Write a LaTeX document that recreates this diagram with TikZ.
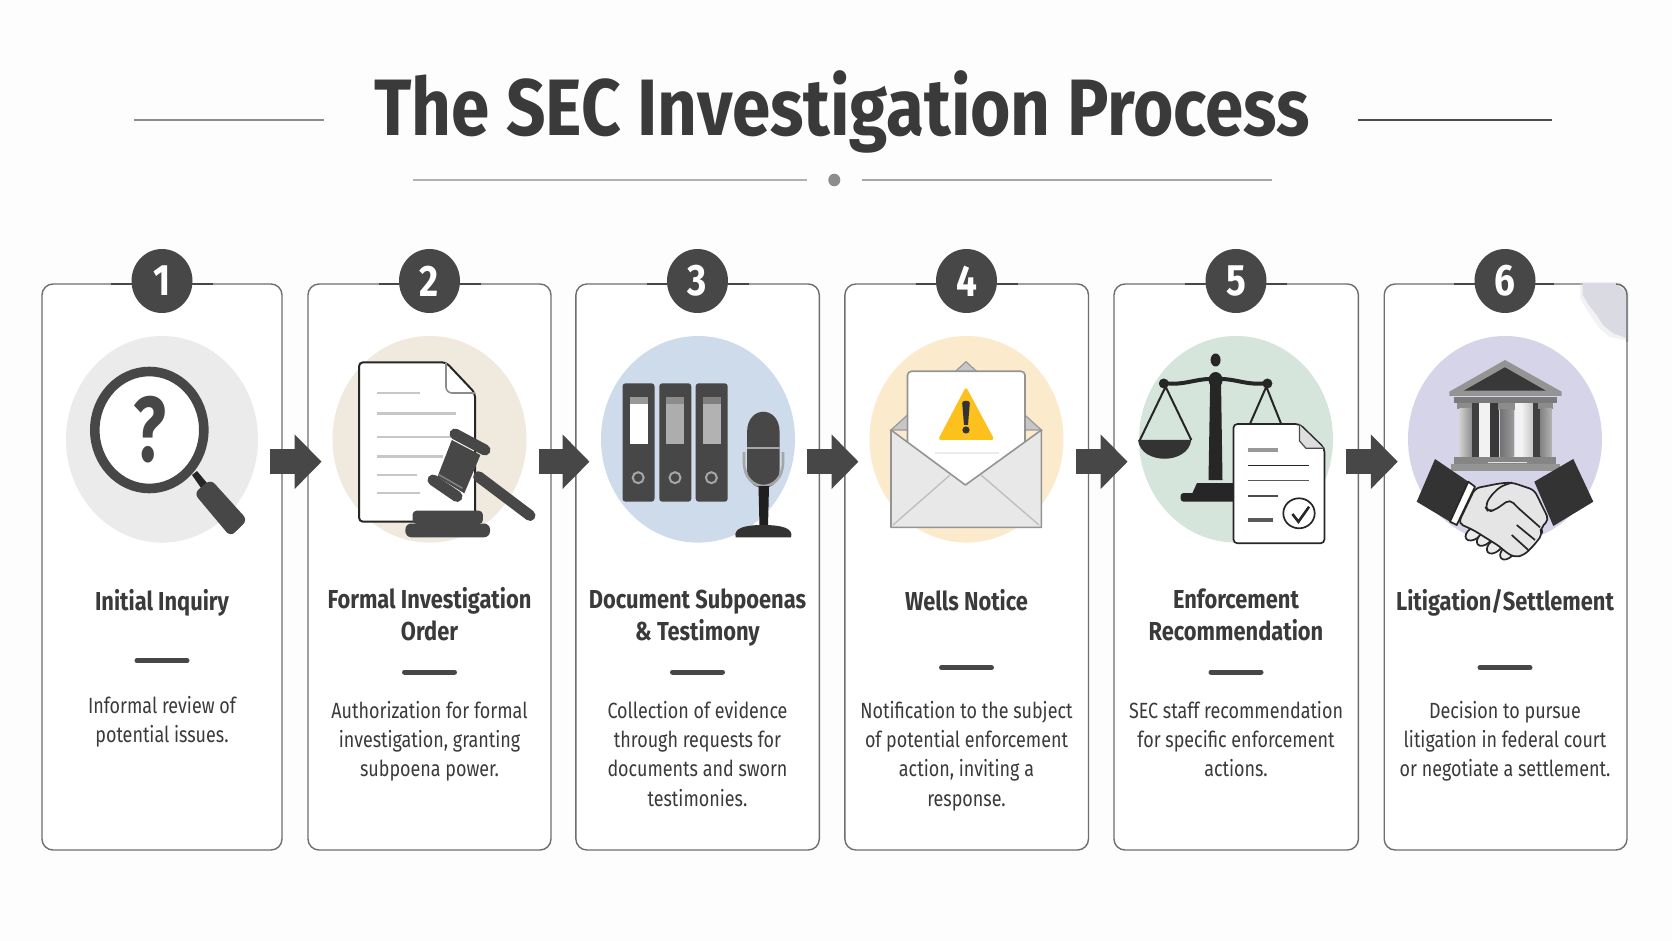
\documentclass[tikz,border=0pt]{standalone}
\usepackage{fontspec}
\usetikzlibrary{arrows.meta,shapes.geometric,calc}
\setmainfont{Fira Sans}
\newfontfamily\hfont[FakeStretch=0.84]{Fira Sans}
\newfontfamily\tfont[FakeStretch=0.865]{Fira Sans}
\newfontfamily\bfont[FakeStretch=0.815]{Fira Sans}
\newfontfamily\qfont[FakeStretch=0.74]{Fira Sans}
\definecolor{bgc}{HTML}{FDFDFD}
\definecolor{ink}{HTML}{474747}
\definecolor{txt}{HTML}{3A3A3A}
\definecolor{edge}{HTML}{6E6E6E}
\definecolor{lgrey}{HTML}{EBEBEB}
\definecolor{lbeige}{HTML}{F0E9DE}
\definecolor{lblue}{HTML}{CEDBEB}
\definecolor{lyellow}{HTML}{FBEACB}
\definecolor{lgreen}{HTML}{D5E5DC}
\definecolor{lpurple}{HTML}{D6D4E8}
\definecolor{warn}{HTML}{FDC11E}
\definecolor{smudge}{HTML}{DADAE2}
\tikzset{
 cardbox/.style={draw=edge,fill=white,line width=0.7pt,rounded corners=5.5pt,minimum height=283pt,inner sep=0pt},
 badge/.style={ellipse,fill=ink,text=white,minimum width=30.5pt,minimum height=32pt,inner sep=0pt,font=\hfont\fontsize{22}{22}\selectfont\bfseries},
 blockarrow/.style={ink,line width=12.5pt,-{Triangle[length=13.5pt,width=26.5pt]}},
 headtext/.style={anchor=base,align=center,text=txt,font=\hfont\fontsize{13}{15.75}\selectfont\bfseries},
 bodytext/.style={anchor=base,align=center,text=txt,font=\bfont\fontsize{11}{14.65}\selectfont},
 sepbar/.style={ink,line width=2.5pt,line cap=round},
 rulea/.style={line width=0.8pt},
 docline/.style={line width=1pt,draw=black!22},
 blk/.style={draw=black!85,line width=0.85pt,line join=round},
}
\begin{document}
\begin{tikzpicture}[x=0.5pt,y=-0.5pt]
\useasboundingbox (0,0) rectangle (1672,941);
\fill[bgc] (0,0) rectangle (1672,941);
% title
\node[anchor=base,text=txt,font=\tfont\fontsize{40}{40}\selectfont\bfseries] (title) at (842,136) {The SEC Investigation Process};
\draw[rulea,black!45] (134,120.3) -- (323.5,120.3);
\draw[rulea,black!70] (1358,120) -- (1551.6,120);
\draw[rulea,black!30] (412.7,180) -- (807,180);
\draw[rulea,black!35] (861.5,180) -- (1272,180);
\fill[black!45] (834.3,180) ellipse [x radius=6,y radius=6.3];
% cards
\foreach \n/\cx/\w in {1/162/120,2/429.5/121.5,3/697.6/121.7,4/966.7/121.8,5/1236.2/122.2,6/1505.6/121.4}{
 \node[cardbox,minimum width=\w pt] (c\n) at (\cx,567) {};
}
% smudge
\fill[smudge,opacity=.35] (1580,282.5) -- (1620,282.5) -- (1629,292) -- (1629,341) -- (1610,337) -- (1600,329) -- (1593,319) -- (1587,310) -- (1580,298) -- cycle;
\fill[smudge] (1582.7,283) -- (1616,283) -- (1626.3,293) -- (1626.3,338) -- (1613,333.3) -- (1603,325) -- (1596.7,315) -- (1590,306.7) -- (1582.7,295) -- cycle;
\draw[edge,line width=0.7pt] (1616,284) .. controls (1622.5,284) and (1627,288.5) .. (1627,295) -- (1627,342);
% badges
\foreach \n/\cx/\x in {1/162/51,2/429.5/51,3/697.5/51,4/966.5/51,5/1236/51,6/1505/49}{
 \draw[ink,line width=1.1pt] (\cx-51,284) -- (\cx+\x,284);
 \node[badge] (b\n) at (\cx,281) {\n};
}
% arrows
\foreach \a/\b in {1/2,2/3,3/4,4/5,5/6}{
 \draw[blockarrow] ([shift={(-12.8,-105.3)}]c\a.east) -- ([shift={(14.3,-105.3)}]c\b.west);
}
% ellipses
\fill[lgrey] (162,439.3) ellipse [x radius=96,y radius=103.3];
\fill[lbeige] (429.5,439.3) ellipse [x radius=97,y radius=103.3];
\fill[lblue] (698,439.3) ellipse [x radius=97,y radius=103.3];
\fill[lyellow] (966.5,439.3) ellipse [x radius=97,y radius=103.3];
\fill[lgreen] (1236,439.3) ellipse [x radius=97,y radius=103.3];
\fill[lpurple] (1505,439.3) ellipse [x radius=97,y radius=103.3];
% --- icon 1
\fill[black!85] (192,475) -- (197,471) -- (207,483) -- (201,488) -- cycle;
\fill[ink,rounded corners=3pt] (194,493.3) -- (210.7,479.3) -- (247.5,520) -- (230.4,536.7) -- cycle;
\draw[ink,line width=4.8pt,fill=white] (149.3,430) ellipse [x radius=54.5,y radius=58.5];
\node[text=ink,font=\qfont\fontsize{46}{46}\selectfont\bfseries] (q) at (150,430) {?};
% --- icon 2
\draw[black!85,line width=1pt,fill=white,line join=round,rounded corners=2pt] (359,362.3) -- (446,362.3) -- (475,393) -- (475,521.7) -- (359,521.7) -- cycle;
\draw[black!45,line width=0.8pt,rounded corners=3pt] (446,362.3) -- (446,393) -- (475,393);
\draw[docline] (376.8,393.3) -- (419.6,393.3);
\draw[docline,line width=1.5pt] (376.8,414) -- (456.4,414);
\draw[docline] (376.8,436.7) -- (451.8,436.7);
\draw[docline,line width=1.6pt] (376.8,456.7) -- (443,456.7);
\draw[docline] (376.8,475) -- (417,475);
\draw[docline] (376.8,493.3) -- (419.6,493.3);
\draw[ink,line width=5.5pt,line cap=round] (478.6,476.7) -- (530,515.5);
\draw[ink,line width=5.5pt,line cap=round] (455,434) -- (485,450);
\draw[ink,line width=5.5pt,line cap=round] (433,480) -- (457,496.5);
\fill[ink] (451.8,440) -- (480.4,455) -- (464.3,493.3) -- (437.5,476.7) -- cycle;
\draw[black!50,line width=0.8pt] (438.6,474.5) -- (462.5,488.3);
\fill[ink,rounded corners=2pt] (412.5,510.7) -- (482.9,510.7) -- (482.9,524) -- (412.5,524) -- cycle;
\fill[ink,rounded corners=3pt] (405.4,523.5) -- (490,523.5) -- (490,537.3) -- (405.4,537.3) -- cycle;
% --- icon 3
\foreach \x/\l/\lc/\tc in {622.5/630/white/black!40,659.3/666.4/black!32/black!45,695.7/702.9/black!30/black!50}{
 \fill[ink,rounded corners=1.5pt] (\x,383.3) rectangle ++(32,118.4);
 \fill[\lc] (\l,396.7) rectangle ++(17.8,47.3);
 \fill[\tc] (\l,396.7) rectangle ++(17.8,7);
 \draw[black!35,line width=1pt] (\x+15.7,477.7) circle [radius=5.5];
}
\fill[ink] (747.1,432) .. controls (747.1,405) and (779.6,405) .. (779.6,432) -- (779.6,470) .. controls (779.6,494) and (747.1,494) .. (747.1,470) -- cycle;
\draw[black!35,line width=1pt] (747.1,448) -- (779.6,448);
\draw[black!35,line width=1.3pt] (744,452) -- (744,462) .. controls (744,494) and (783,494) .. (783,462) -- (783,452);
\fill[black!88] (758.5,486) -- (769,486) -- (768,527) -- (759.5,527) -- cycle;
\fill[black!80] (735.7,537.3) .. controls (733,528) and (745,525) .. (763,525) .. controls (781,525) and (794,528) .. (791,537.3) -- cycle;
% --- icon 4
\fill[black!22,draw=black!40,line width=.6pt] (891,430) -- (966,361.7) -- (1041.4,430) -- cycle;
\draw[black!42,line width=.8pt,fill=white,rounded corners=2pt] (907.5,371.3) rectangle (1025,490);
\fill[black!8] (935,452) rectangle (999,453.5);
\fill[warn,rounded corners=1.5pt] (966,386.7) -- (994.6,440) -- (937.9,440) -- cycle;
\fill[black!80] (962.2,403) .. controls (962.2,400) and (969.8,400) .. (969.8,403) -- (968,425) -- (964,425) -- cycle;
\fill[black!80] (966,430) circle [radius=3.6];
\draw[black!42,line width=.8pt,fill=black!9,line join=round] (891,430) -- (965.4,485) -- (1041.4,430) -- (1041.4,527.3) -- (891,527.3) -- cycle;
\draw[black!25,line width=.7pt] (893,525) -- (950,475);
\draw[black!25,line width=.7pt] (1039,525) -- (981,475);
% --- icon 5
\fill[black!85] (1210.2,380) -- (1221,380) -- (1222.5,480) -- (1208.5,480) -- cycle;
\fill[black!85] (1215.6,360) ellipse [x radius=5,y radius=6.5];
\fill[black!85] (1215.6,380) ellipse [x radius=7,y radius=8];
\draw[black!85,line width=2pt] (1163.8,383) .. controls (1185,386) and (1195,378) .. (1215.6,379) .. controls (1236,378) and (1246,386) .. (1267.4,383);
\fill[black!85] (1163.8,383.5) circle [radius=5];
\fill[black!85] (1267.4,383.5) circle [radius=5];
\draw[black!85,line width=1pt] (1139.9,440) -- (1165.6,386.7) -- (1191.3,440);
\draw[black!85,line width=1pt] (1249.5,425) -- (1266.3,386.7) -- (1281.6,425);
\fill[black!80] (1138,440) -- (1191.3,440) .. controls (1188,465) and (1141,465) .. (1138,440) -- cycle;
\fill[black!85] (1192.4,493) -- (1197,483) -- (1236,483) -- (1236,493) -- cycle;
\fill[black!85,rounded corners=1.5pt] (1180.6,493) -- (1236,493) -- (1236,501.7) -- (1180.6,501.7) -- cycle;
\draw[blk,fill=white,rounded corners=2pt] (1233.4,424) -- (1299.5,424) -- (1324.5,448.3) -- (1324.5,543.3) -- (1233.4,543.3) -- cycle;
\fill[black!13] (1299.5,425) -- (1323.5,448.3) -- (1306,448.3) -- (1299.5,442) -- cycle;
\draw[black!70,line width=.6pt] (1299.5,424) -- (1299.5,441) -- (1306,448.3) -- (1324.5,448.3);
\draw[black!40,line width=1.6pt] (1247.7,450) -- (1278,450);
\draw[black!85,line width=.7pt] (1247.7,465.7) -- (1309,465.7);
\draw[black!65,line width=.7pt] (1247.7,480.7) -- (1309,480.7);
\draw[black!70,line width=.7pt] (1247.7,496) -- (1278,496);
\draw[black!65,line width=1.6pt] (1247.7,520) -- (1272.7,520);
\draw[blk] (1299,513.3) ellipse [x radius=15.7,y radius=15];
\draw[black!85,line width=1.3pt] (1292.4,514) -- (1298.4,521.7) -- (1309.1,506.7);
% --- icon 6
\fill[black!42] (1505,360) -- (1561.7,391.7) -- (1561.7,396) -- (1449.3,396) -- (1449.3,391.7) -- cycle;
\fill[black!78] (1504.9,367.3) -- (1545.9,390.7) -- (1463.8,390.7) -- cycle;
\fill[black!52] (1454,396.7) rectangle (1557.3,403.3);
\fill[black!45] (1457.3,403.3) rectangle (1473.3,409.3);
\shade[left color=black!18,right color=black!45] (1459.3,409) rectangle (1472.3,456.7);
\fill[black!75] (1472.3,403.3) rectangle (1479.3,456.7);
\fill[black!5] (1479.3,403.3) rectangle (1490,456.7);
\fill[black!78] (1490,403.3) rectangle (1499.3,456.7);
\fill[black!45] (1498.3,403.3) rectangle (1515,410);
\shade[left color=black!55,right color=black!40] (1500,410) rectangle (1513.3,456.7);
\fill[black!5] (1515,403.3) rectangle (1523.3,456.7);
\shade[left color=black!8,right color=black!22] (1523.3,403.3) rectangle (1532.7,456.7);
\fill[black!75] (1532.7,403.3) rectangle (1540.7,456.7);
\fill[black!45] (1538,403.3) rectangle (1553,409.3);
\shade[left color=black!48,right color=black!30] (1540.7,409) rectangle (1551.7,456.7);
\fill[black!48] (1454,456.7) rectangle (1556,464);
\fill[black!42] (1450.7,464) rectangle (1560,470.7);
\fill[black!12] (1487.5,461.5) rectangle (1526.5,463);
\foreach \p/\r/\a in {1474/533.3/35,1485/538.3/40,1495/546/40,1508/551.7/45}{
 \draw[blk,fill=black!8,rotate around={\a:(\p,\r)}] (\p,\r) ellipse [x radius=9.5,y radius=5.8];
}
\draw[blk,fill=black!10,rounded corners=2.5pt] (1475,488.3) -- (1500,483.3) -- (1512,482.5) -- (1534.3,490) -- (1549,520) -- (1540,528.3) -- (1542.7,534) -- (1533.3,546) -- (1524,555) -- (1515,557.3) -- (1506.7,553) -- (1500,546.7) -- (1473.3,530) -- (1458.3,523.3) -- cycle;
\draw[blk,rounded corners=2.5pt] (1512,482.5) -- (1500,486.7) -- (1490,496.7) -- (1485,506.7) -- (1488.3,511.7) -- (1495,510) -- (1510,499.3) -- (1516.7,506.7) -- (1540,527.3);
\draw[blk] (1516.7,525) -- (1535,540);
\draw[blk] (1511.7,535) -- (1528.3,550);
\fill[black!80] (1573.3,459) -- (1593.3,501.7) -- (1553.3,526) -- (1534.3,481.7) -- cycle;
\fill[black!80] (1435,459) -- (1468.3,481.7) -- (1450,521.7) -- (1416.7,501.7) -- cycle;
\draw[blk,fill=white] (1468.3,481.7) -- (1475,486.7) -- (1456.7,525) -- (1450,521.7) -- cycle;
% --- step text
\node[headtext] (h1) at (162,610.7) {Initial Inquiry};
\node[headtext] (h2) at (429.5,640) {Formal Investigation\\Order};
\node[headtext] (h3) at (697.5,640) {Document Subpoenas\\\& Testimony};
\node[headtext] (h4) at (966.5,610.7) {Wells Notice};
\node[headtext] (h5) at (1236,640) {Enforcement\\Recommendation};
\node[headtext] (h6) at (1505,610.7) {Litigation/Settlement};
\draw[sepbar] (137,660.7) -- (187,660.7);
\draw[sepbar] (404.5,672) -- (454.5,672);
\draw[sepbar] (672.5,672) -- (722.5,672);
\draw[sepbar] (941.5,667.7) -- (991.5,667.7);
\draw[sepbar] (1211,672) -- (1261,672);
\draw[sepbar] (1480,667.7) -- (1530,667.7);
\node[bodytext] (t1) at (162,742.5) {Informal review of\\potential issues.};
\node[bodytext] (t2) at (429.5,776.6) {Authorization for formal\\investigation, granting\\subpoena power.};
\node[bodytext] (t3) at (697.5,806) {Collection of evidence\\through requests for\\documents and sworn\\testimonies.};
\node[bodytext] (t4) at (966.5,806) {Notification to the subject\\of potential enforcement\\action, inviting a\\response.};
\node[bodytext] (t5) at (1236,776.6) {SEC staff recommendation\\for specific enforcement\\actions.};
\node[bodytext] (t6) at (1505,776.6) {Decision to pursue\\litigation in federal court\\or negotiate a settlement.};
\end{tikzpicture}
\end{document}
